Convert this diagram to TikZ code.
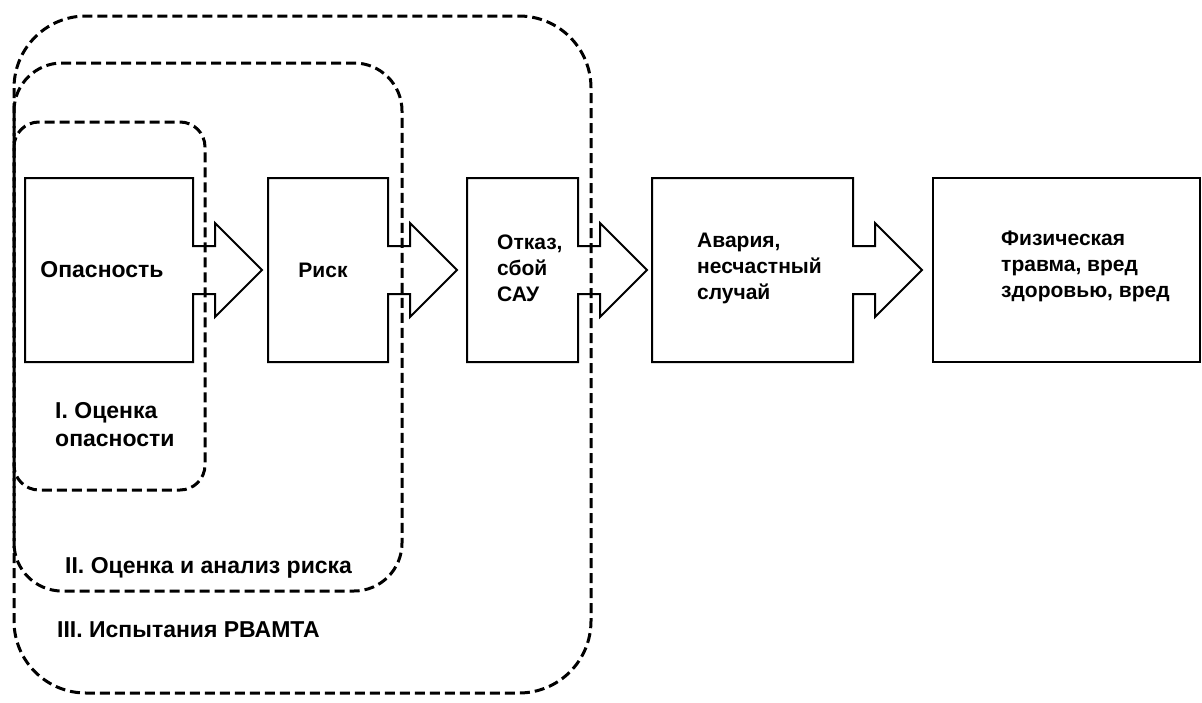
\documentclass[tikz,border=0pt]{standalone}
\usepackage{fontspec}
\setmainfont{Liberation Sans}
\usetikzlibrary{calc}
\tikzset{
  boxshape/.style={draw=none, inner sep=0pt, outer sep=0pt, minimum height=184pt},
  boxline/.style={draw=black, line width=2pt, line join=miter},
  region/.style={draw=black, line width=3pt, dash pattern=on 10pt off 5pt},
  lbl/.style={font=\bfseries\fontsize{21}{26}\selectfont, inner sep=0pt},
  rlbl/.style={font=\bfseries\fontsize{23}{28}\selectfont, inner sep=0pt},
}
\newcommand\arrowbox[1]{%
  \draw[boxline] ($(#1.east)+(0,-24)$) -- (#1.north east) -- (#1.north west)
    -- (#1.south west) -- (#1.south east) -- ($(#1.east)+(0,24)$)
    -- ++(22,0) -- ++(0,23) -- ($(#1.east)+(69,0)$) coordinate (#1tip)
    -- ($(#1.east)+(22,-47)$) -- ++(0,23) -- cycle;}
\begin{document}
\begin{tikzpicture}[x=1pt,y=-1pt]
\useasboundingbox (0,0) rectangle (1202,702);
% dashed regions
\draw[region, rounded corners=72pt] (14,16) rectangle (591,693);
\draw[region, rounded corners=48pt] (14,63) rectangle (402,591);
\draw[region, rounded corners=25pt] (14,122) rectangle (205,490);
% boxes
\node[boxshape, minimum width=168pt] (b1) at (109,270) {};
\node[boxshape, minimum width=120pt] (b2) at (328,270) {};
\node[boxshape, minimum width=111pt] (b3) at (522.5,270) {};
\node[boxshape, minimum width=201pt] (b4) at (752.5,270) {};
\node[boxshape, minimum width=267pt] (b5) at (1066.5,270) {};
\arrowbox{b1}
\arrowbox{b2}
\arrowbox{b3}
\arrowbox{b4}
\draw[boxline] (b5.north west) rectangle (b5.south east);
% texts
\node[rlbl] (t1) at (102,270) {Опасность};
\node[lbl] (t2) at (323,270) {Риск};
\node[lbl, align=left, anchor=west] (t3) at (497,268) {Отказ,\\сбой\\САУ};
\node[lbl, align=left, anchor=west] (t4) at (697,268) {Авария,\\несчастный\\случай};
\node[lbl, align=left, anchor=west] (t5) at (1001,266) {Физическая\\травма, вред\\здоровью, вред};
\node[rlbl, align=left, anchor=west] (r1) at (55,425) {I. Оценка\\опасности};
\node[rlbl, anchor=west] (r2) at (65,568) {II. Оценка и анализ риска};
\node[rlbl, anchor=west] (r3) at (57,630) {III. Испытания РВАМТА};
\end{tikzpicture}
\end{document}
